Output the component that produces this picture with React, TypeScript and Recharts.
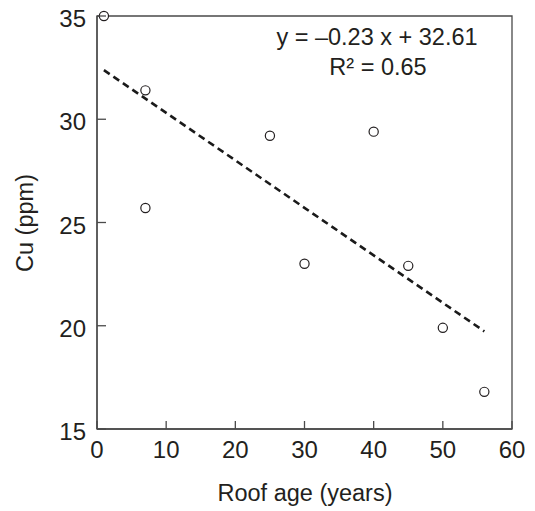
import React from 'react';
import { ScatterChart, Scatter, XAxis, YAxis, ReferenceLine, ReferenceArea } from 'recharts';

const roofAge = [1, 7, 7, 25, 30, 40, 45, 50, 56];
const copper = [35, 31.4, 25.7, 29.2, 23.0, 29.4, 22.9, 19.9, 16.8];
const xTicks = [0, 10, 20, 30, 40, 50, 60];
const yTicks = [15, 20, 25, 30, 35];
const trendSlope = -0.23;
const trendIntercept = 32.61;
const trendRange = [1, 56];
const equationText = 'y = \u20130.23 x + 32.61';
const r2Text = 'R\u00b2 = 0.65';

const data = roofAge.map((x, i) => ({ x, y: copper[i] }));
const trendSegment = trendRange.map((x) => ({ x, y: trendSlope * x + trendIntercept }));

const FONT = '"Liberation Sans", Arial, Helvetica, sans-serif';
const AXIS = '#4a4a4a';
const TEXT = '#231f20';

const XTick = (props: any) => {
  const { x, y, payload } = props;
  return (
    <g>
      <line x1={x} y1={y} x2={x} y2={y - 8} stroke={AXIS} strokeWidth={1.3} />
      <text x={x} y={y + 29} textAnchor="middle" fontSize={24} fill={TEXT} fontFamily={FONT}>
        {payload.value}
      </text>
    </g>
  );
};

const YTick = (props: any) => {
  const { x, y, payload } = props;
  return (
    <g>
      <line x1={x} y1={y} x2={x + 9} y2={y} stroke={AXIS} strokeWidth={1.3} />
      <text x={x - 11} y={y + 11} textAnchor="end" fontSize={24} fill={TEXT} fontFamily={FONT}>
        {payload.value}
      </text>
    </g>
  );
};

const OpenCircle = (props: any) => {
  const { cx, cy } = props;
  return <circle cx={cx} cy={cy} r={4.6} fill="#fff" stroke={TEXT} strokeWidth={1.2} />;
};

export default function App() {
  return (
    <div style={{ position: 'absolute', left: 0, top: 0 }}>
      <ScatterChart width={535} height={511} margin={{ top: 16, right: 23, bottom: 0, left: 0 }}>
        <XAxis
          type="number"
          dataKey="x"
          domain={[0, 60]}
          ticks={xTicks}
          height={82}
          tickSize={0}
          tickMargin={0}
          tickLine={false}
          axisLine={{ stroke: AXIS, strokeWidth: 1.3 }}
          tick={<XTick />}
          interval={0}
        />
        <YAxis
          type="number"
          dataKey="y"
          domain={[15, 35]}
          ticks={yTicks}
          width={97}
          tickSize={0}
          tickMargin={0}
          tickLine={false}
          axisLine={{ stroke: AXIS, strokeWidth: 1.3 }}
          tick={<YTick />}
          interval={0}
        />
        <ReferenceArea
          x1={0}
          x2={60}
          y1={15}
          y2={35}
          fill="none"
          fillOpacity={0}
          stroke={AXIS}
          strokeWidth={1.3}
          ifOverflow="visible"
        />
        <ReferenceLine
          segment={trendSegment}
          stroke="#1a1a1a"
          strokeWidth={2.6}
          strokeDasharray="7 4.5"
          ifOverflow="visible"
        />
        <Scatter data={data} shape={<OpenCircle />} isAnimationActive={false} />
        <text x={377} y={45} textAnchor="middle" fontSize={23.5} fill={TEXT} fontFamily={FONT}>
          {equationText}
        </text>
        <text x={378} y={75} textAnchor="middle" fontSize={23.5} fill={TEXT} fontFamily={FONT}>
          {r2Text}
        </text>
        <text x={305} y={501} textAnchor="middle" fontSize={23.5} fill={TEXT} fontFamily={FONT}>
          Roof age (years)
        </text>
        <text
          x={33}
          y={223}
          textAnchor="middle"
          fontSize={23.5}
          fill={TEXT}
          fontFamily={FONT}
          transform="rotate(-90 33 223)"
        >
          Cu (ppm)
        </text>
      </ScatterChart>
    </div>
  );
}
